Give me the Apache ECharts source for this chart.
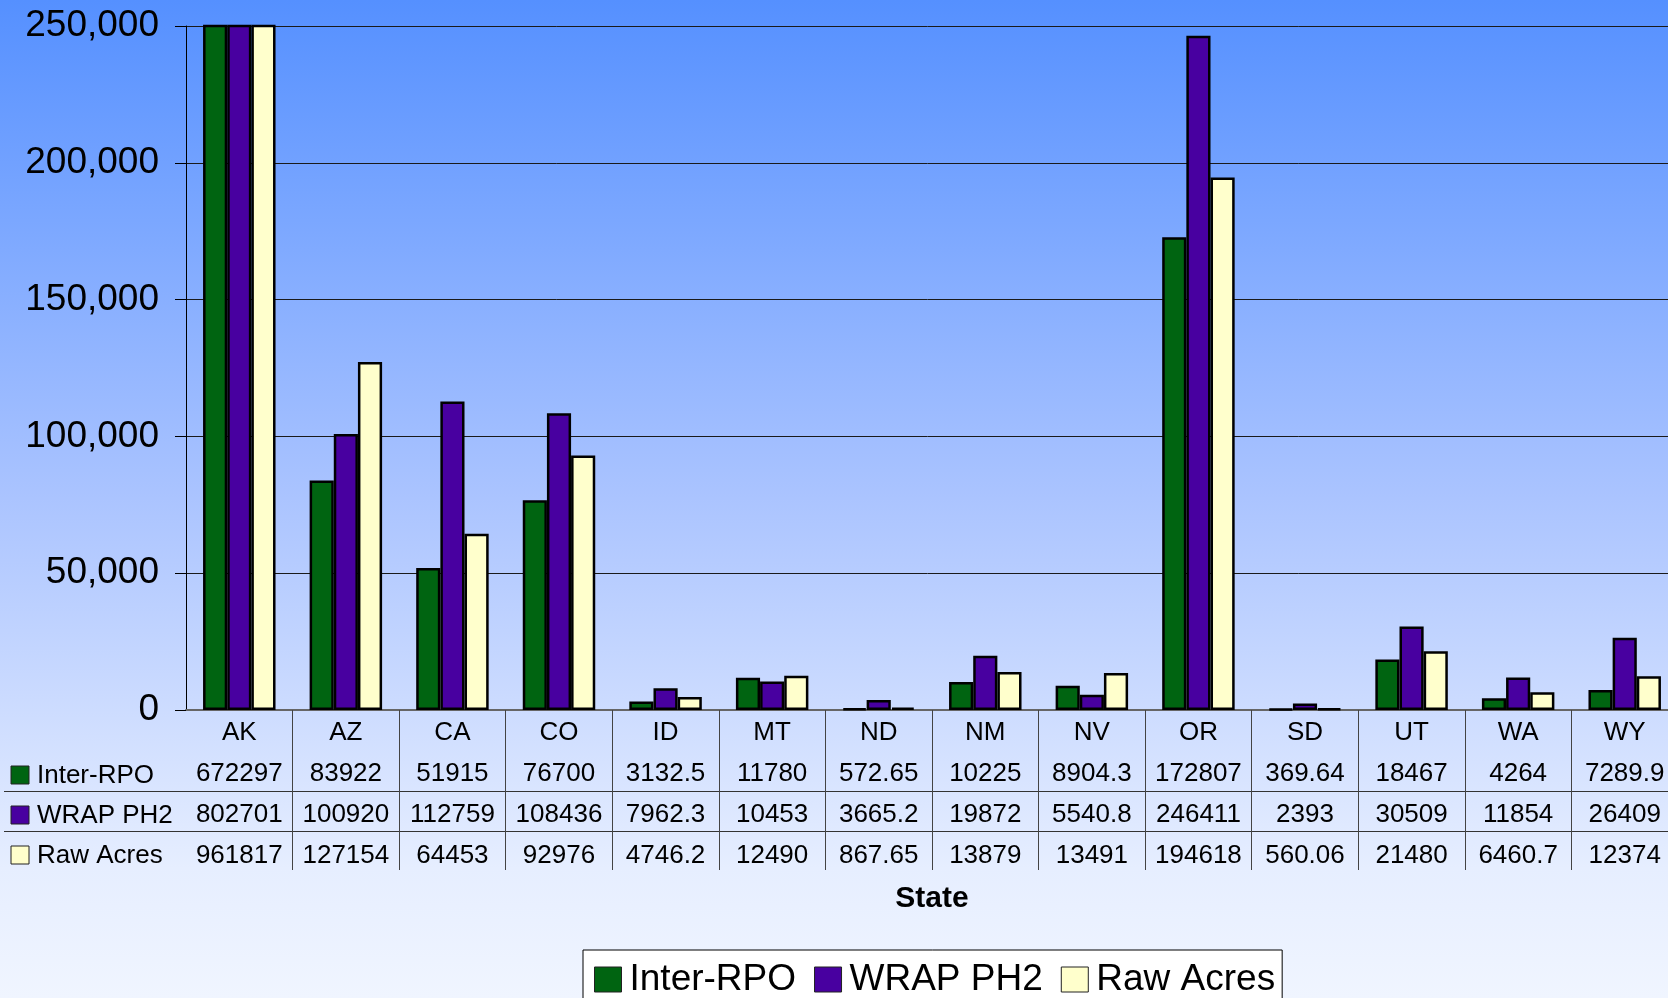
<!DOCTYPE html>
<html>
<head>
<meta charset="utf-8">
<script src="https://cdn.jsdelivr.net/npm/echarts@6/dist/echarts.min.js"></script>
<style>
  html, body { margin: 0; padding: 0; }
  #chart { width: 1668px; height: 998px; }
</style>
</head>
<body>
<div id="chart"></div>
<script>
const states = ['AK','AZ','CA','CO','ID','MT','ND','NM','NV','OR','SD','UT','WA','WY'];
const interRpo = [672297, 83922, 51915, 76700, 3132.5, 11780, 572.65, 10225, 8904.3, 172807, 369.64, 18467, 4264, 7289.9];
const wrapPh2 = [802701, 100920, 112759, 108436, 7962.3, 10453, 3665.2, 19872, 5540.8, 246411, 2393, 30509, 11854, 26409];
const rawAcres = [961817, 127154, 64453, 92976, 4746.2, 12490, 867.65, 13879, 13491, 194618, 560.06, 21480, 6460.7, 12374];
const seriesNames = ['Inter-RPO', 'WRAP PH2', 'Raw Acres'];
const seriesColors = ['#006411', '#4800a0', '#ffffcc'];
const rows = [interRpo, wrapPh2, rawAcres];

const FONT = '"Liberation Sans", Arial, sans-serif';
const chart = echarts.init(document.getElementById('chart'));

// row headers of the data table (colour key + series name) and row rules
const rowCenters = [776, 816, 856];
const tableGraphics = [];
seriesNames.forEach((name, i) => {
  tableGraphics.push({
    type: 'rect',
    shape: { x: 11, y: rowCenters[i] - 10, width: 18, height: 18 },
    style: { fill: seriesColors[i], stroke: '#222', lineWidth: 1 }
  });
  tableGraphics.push({
    type: 'text',
    x: 37, y: rowCenters[i],
    style: { text: name, font: '26px ' + FONT, fill: '#000', verticalAlign: 'middle' }
  });
});
[791.5, 831.5].forEach((y) => {
  tableGraphics.push({
    type: 'line',
    shape: { x1: 4, y1: y, x2: 1668, y2: y },
    style: { stroke: '#333', lineWidth: 1 }
  });
});

chart.setOption({
  backgroundColor: new echarts.graphic.LinearGradient(0, 0, 0, 1, [
    { offset: 0, color: '#5590ff' },
    { offset: 0.5, color: '#abc4ff' },
    { offset: 0.87, color: '#e6eeff' },
    { offset: 1, color: '#f0f5ff' }
  ]),
  textStyle: { fontFamily: FONT },
  animation: false,
  grid: { left: 186, right: -10, top: 26, bottom: 288, containLabel: false, outerBoundsMode: 'none' },
  legend: {
    left: 583,
    top: 950,
    padding: [11, 7, 10, 11],
    itemGap: 18,
    itemWidth: 27,
    itemHeight: 25,
    backgroundColor: '#ffffff',
    borderColor: '#000',
    borderWidth: 1,
    borderRadius: 0,
    icon: 'rect',
    itemStyle: { borderWidth: 1, borderColor: '#222' },
    textStyle: { fontSize: 37, color: '#000', padding: [0, 0, 0, 3] },
    data: seriesNames
  },
  xAxis: {
    type: 'category',
    data: states,
    name: 'State',
    nameLocation: 'middle',
    nameGap: 174,
    nameTextStyle: { fontSize: 30, fontWeight: 'bold', color: '#000' },
    axisLine: { lineStyle: { color: '#666', width: 2 } },
    axisTick: {
      show: true,
      length: 160,
      interval: (idx) => idx !== 0,
      lineStyle: { color: '#444', width: 1 }
    },
    axisLabel: {
      interval: 0,
      margin: 2,
      fontSize: 26,
      lineHeight: 41,
      color: '#000',
      formatter: (val, idx) => [val].concat(rows.map((r) => String(r[idx]))).join('\n')
    }
  },
  yAxis: {
    type: 'value',
    min: 0,
    max: 250000,
    interval: 50000,
    axisLine: { show: true, lineStyle: { color: '#000', width: 1 } },
    axisTick: { show: true, length: 11, lineStyle: { color: '#000' } },
    splitLine: { show: true, lineStyle: { color: '#1a1a1a', width: 1 } },
    axisLabel: {
      margin: 27,
      fontSize: 37,
      color: '#000',
      formatter: (v) => v.toLocaleString('en-US')
    }
  },
  series: rows.map((data, i) => ({
    name: seriesNames[i],
    type: 'bar',
    data: data,
    clip: true,
    barGap: '0%',
    barCategoryGap: '32%',
    itemStyle: { color: seriesColors[i], borderColor: '#000', borderWidth: 2.5 }
  })),
  graphic: tableGraphics
});
</script>
</body>
</html>
